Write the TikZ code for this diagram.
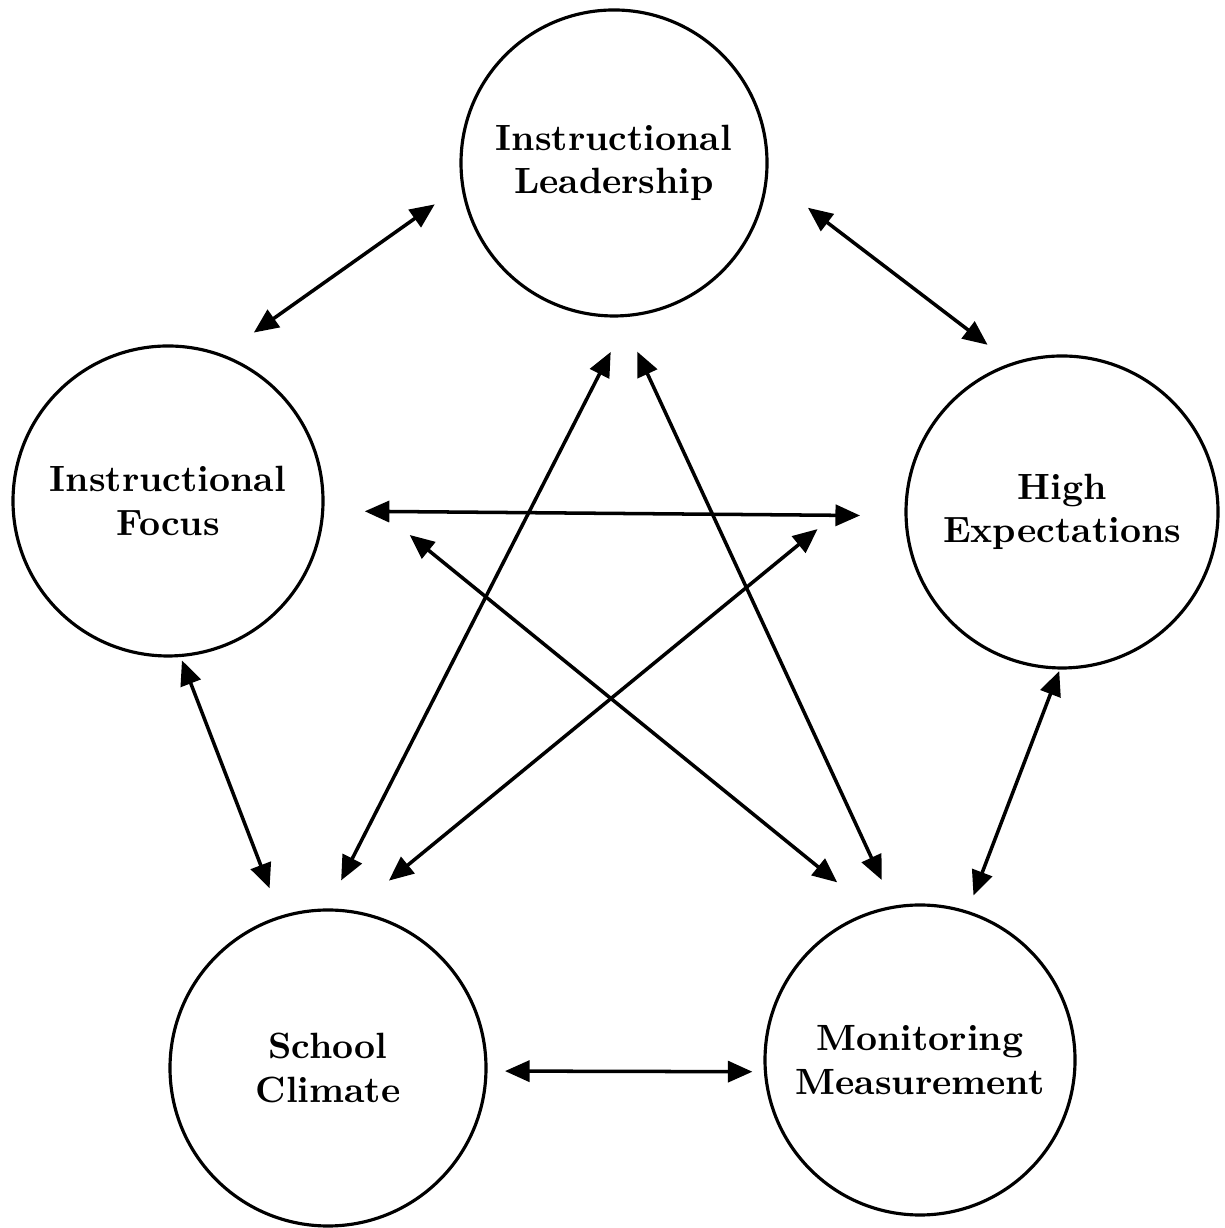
\documentclass[tikz,border=0pt]{standalone}
\usetikzlibrary{arrows.meta,calc}
\tikzset{factor/.style={circle,draw,line width=0.9pt,minimum size=3.1cm,inner sep=0pt,align=center,font=\fontsize{10.4}{12.4}\selectfont\bfseries}}
\tikzset{link/.style={<->,line width=1pt}}

\begin{document}
\begin{tikzpicture}[>={Triangle[length=7pt,width=6pt]}]
    \useasboundingbox (0,0) rectangle (12.24,12.28);

    \node[factor,minimum size=3.06cm] (il) at (6.14,10.65) {Instructional\\Leadership};
    \node[factor] (if) at (1.68,7.27) {Instructional\\Focus};
    \node[factor,minimum size=3.12cm] (he) at (10.62,7.16) {High\\Expectations};
    \node[factor,minimum size=3.16cm] (sc) at (3.28,1.60) {School\\Climate};
    \node[factor] (mm) at (9.20,1.68) {Monitoring\\Measurement};

    % outer ring
    \draw [link] ($(il)+(193:1.84)$) -- ($(if)+(63:1.89)$);
    \draw [link] ($(il)+(347:1.99)$) -- ($(he)+(114:1.83)$);
    \draw [link] ($(if)+(275:1.60)$) -- ($(sc)+(108:1.89)$);
    \draw [link] ($(he)+(269:1.59)$) -- ($(mm)+(72:1.73)$);
    \draw [link] ($(sc)+(359:1.77)$) -- ($(mm)+(184:1.68)$);

    % inner star
    \draw [link] ($(if)+(357:1.97)$) -- ($(he)+(181:2.02)$);
    \draw [link] ($(sc)+(86:1.88)$) -- ($(il)+(269:1.89)$);
    \draw [link] ($(mm)+(102:1.84)$) -- ($(il)+(277:1.90)$);
    \draw [link] ($(sc)+(72:1.97)$) -- ($(he)+(184:2.45)$);
    \draw [link] ($(mm)+(115:1.96)$) -- ($(if)+(352:2.44)$);
\end{tikzpicture}
\end{document}
